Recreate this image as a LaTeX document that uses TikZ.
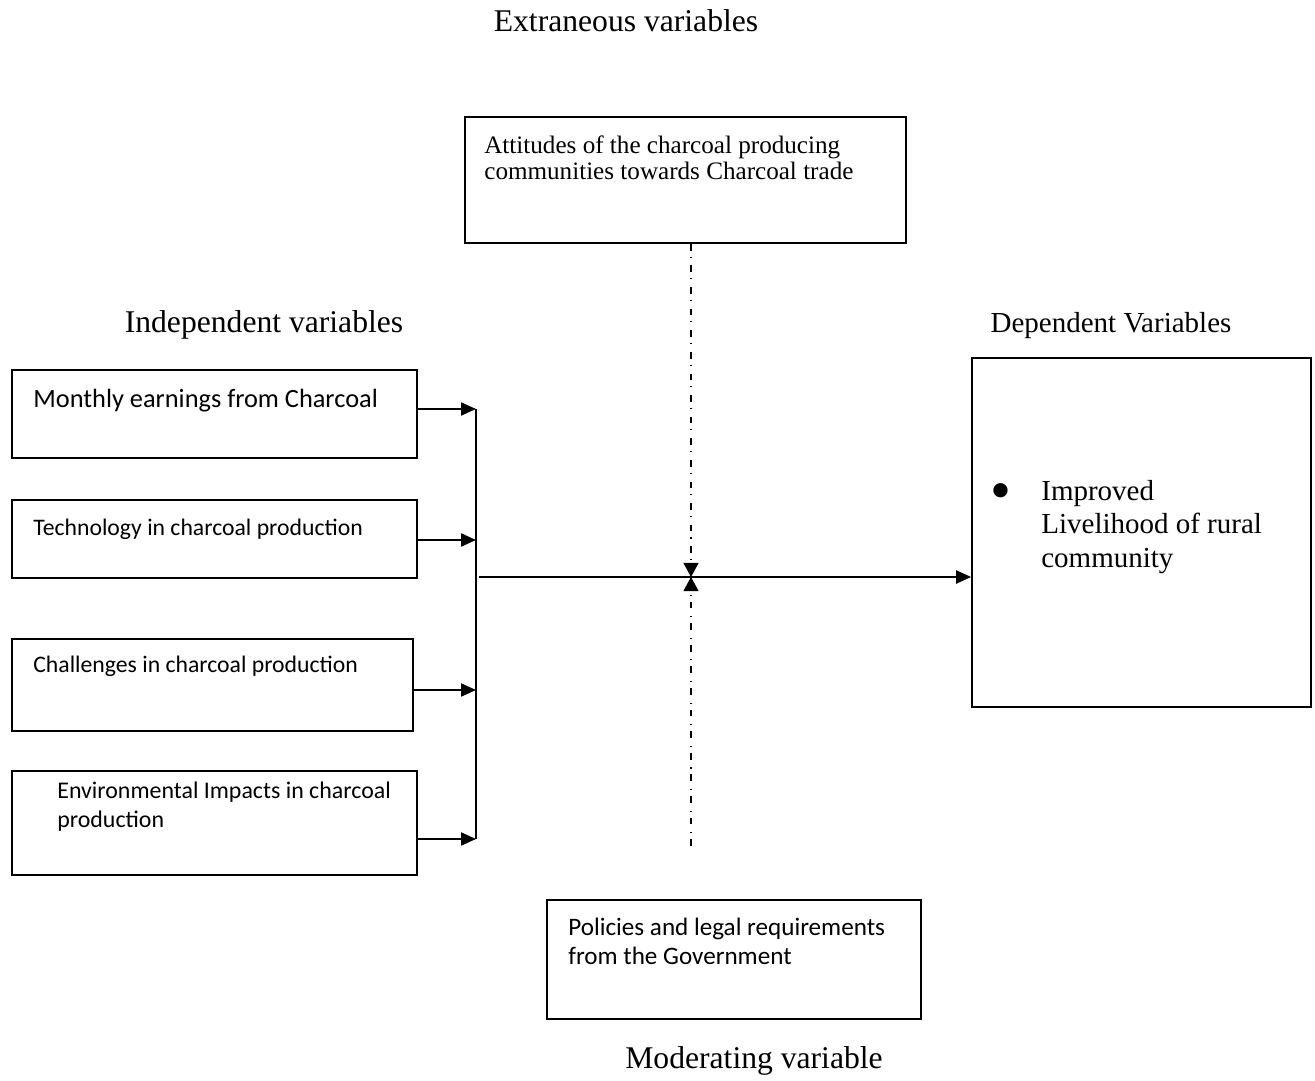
\documentclass[tikz,border=0pt]{standalone}
\usepackage{fontspec}
\setmainfont{Liberation Serif}
\newfontfamily\carlito{Carlito}
\usetikzlibrary{positioning, arrows.meta, fit}
\tikzset{
  box/.style={draw, line width=1pt, inner sep=0},
  head/.style={font=\fontsize{18}{21}\selectfont, anchor=base, inner sep=0},
  boxtext/.style={anchor=base west, align=left, inner sep=0},
  feed/.style={-{Triangle[length=8.5pt,width=7.4pt]}, line width=1.1pt},
  moderate/.style={-{Triangle[length=8pt,width=8.5pt]}, line width=0.75pt,
    dash pattern=on 3.8pt off 3.4pt on 0.6pt off 4.5pt}
}

\begin{document}
\begin{tikzpicture}[x=0.02cm, y=-0.02cm]
\useasboundingbox (0,0) rectangle (1315,1081);

%extraneous (base = last line)
\node [head] (exttitle) at (626,32) {Extraneous variables};
\node [box, fit={(465,117) (906,243)}] (att) {};
\node [boxtext, font=\fontsize{14.3}{15.3}\selectfont] (atttext) at (484,180)
  {Attitudes of the charcoal producing\\communities towards Charcoal trade};

%independent
\node [head] (indtitle) at (264,332) {Independent variables};
\node [box, fit={(12,370) (417,458)}] (earn) {};
\node [boxtext, font=\carlito\fontsize{15}{18}\selectfont] (earntext) at (33,407) {Monthly earnings from Charcoal};
\node [box, fit={(12,500) (417,578)}] (tech) {};
\node [boxtext, font=\carlito\fontsize{13.5}{16}\selectfont] (techtext) at (33,535) {Technology in charcoal production};
\node [box, fit={(12,639) (413,731)}] (chal) {};
\node [boxtext, font=\carlito\fontsize{13.5}{16}\selectfont] (chaltext) at (33,672) {Challenges in charcoal production};
\node [box, fit={(12,771) (417,875)}] (env) {};
\node [boxtext, font=\carlito\fontsize{13.6}{16.4}\selectfont] (envtext) at (57,827)
  {Environmental Impacts in charcoal\\production};

\coordinate (in1) at (476,409);
\coordinate (in2) at (476,540);
\coordinate (in3) at (476,690);
\coordinate (in4) at (476,839);
\coordinate (busout) at (479,577);
\coordinate (hub) at (691,577);
\coordinate (modend) at (691,846);

\draw [line width=1.1pt] (in1) -- (in4);
\draw [feed] (earn.east |- in1) -- (in1);
\draw [feed] (tech.east |- in2) -- (in2);
\draw [feed] (chal.east |- in3) -- (in3);
\draw [feed] (env.east |- in4) -- (in4);

%dependent
\node [head, font=\fontsize{16.5}{19}\selectfont] (deptitle) at (1111,332) {Dependent Variables};
\node [box, fit={(972,358) (1311,707)}] (live) {};
\node [boxtext, font=\fontsize{34}{34}\selectfont] (bullet) at (990,510) {\textbullet};
\node [boxtext, font=\fontsize{16.5}{19}\selectfont] (livetext) at (1041,567)
  {Improved\\Livelihood of rural\\community};
\draw [feed] (busout) -- (busout -| live.west);

%moderating
\node [box, fit={(547,900) (921,1019)}] (pol) {};
\node [boxtext, font=\carlito\fontsize{14.3}{16.4}\selectfont] (poltext) at (568,964)
  {Policies and legal requirements\\from the Government};
\node [head] (modtitle) at (754,1068) {Moderating variable};

\draw [moderate] (att.south -| hub) -- (hub);
\draw [moderate] (modend) -- (hub);

\end{tikzpicture}
\end{document}
